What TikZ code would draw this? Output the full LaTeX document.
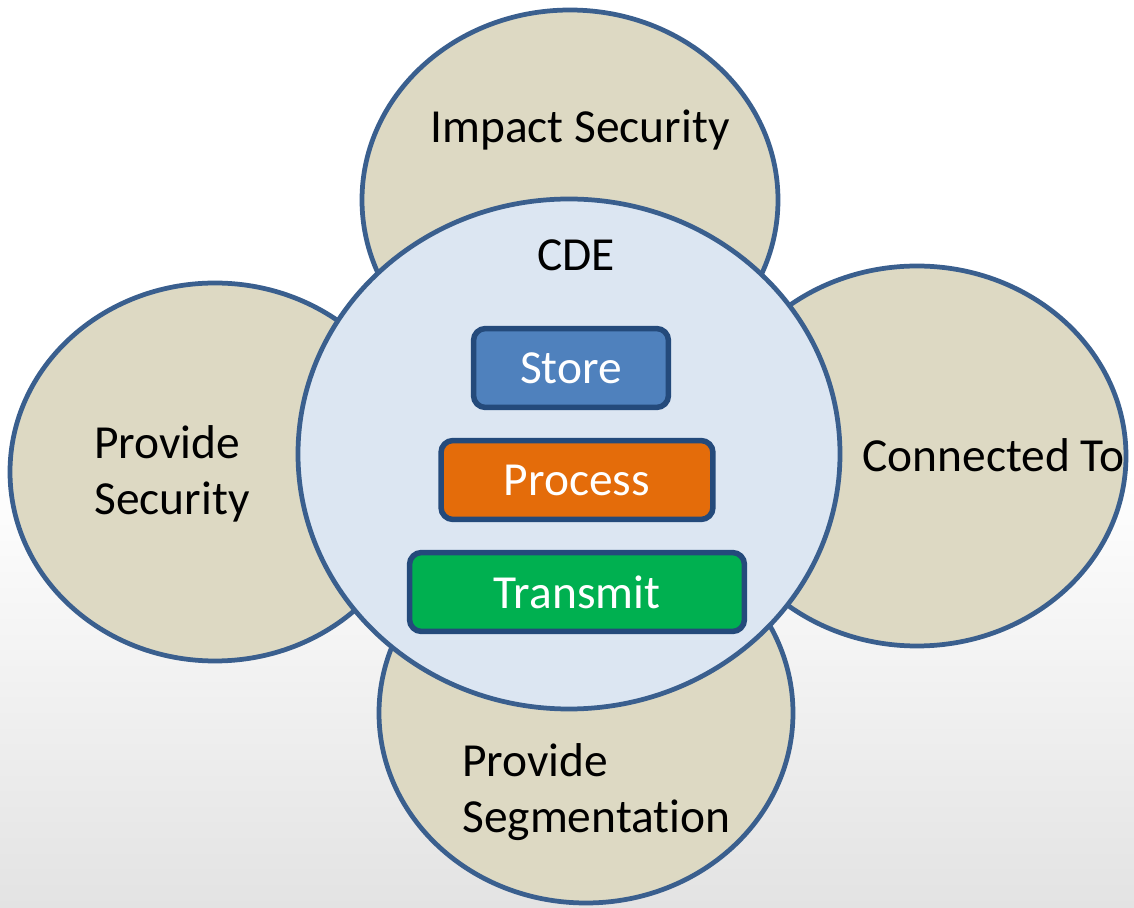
\documentclass[tikz,border=0pt]{standalone}
\usepackage{fontspec}
\setmainfont{Carlito}[Ligatures=NoCommon]
\definecolor{ringblue}{HTML}{3A5F8E}
\definecolor{sand}{HTML}{DDD9C3}
\definecolor{cdefill}{HTML}{DCE6F2}
\definecolor{boxline}{HTML}{244A7B}
\definecolor{storeblue}{HTML}{4F81BD}
\definecolor{processorange}{HTML}{E46C0A}
\definecolor{transmitgreen}{HTML}{00B050}
\definecolor{bggray}{HTML}{E3E3E3}
\begin{document}
\begin{tikzpicture}[x=0.02cm,y=-0.02cm,
  area/.style={draw=ringblue, line width=0.095cm, fill=sand},
  areatext/.style={font=\fontsize{27}{32}\selectfont, align=left, inner sep=0pt},
  actbox/.style={draw=boxline, line width=0.11cm, rounded corners=0.24cm,
    minimum height=1.58cm, inner sep=0pt, text=white,
    font=\fontsize{27}{32}\selectfont}]
% Fondo
\useasboundingbox (0,0) rectangle (1134,908);
\fill[white] (0,0) rectangle (1134,470);
\shade[top color=white, bottom color=bggray] (0,470) rectangle (1134,908);
% Lobulos
\draw[area] (570,200) ellipse [x radius=208, y radius=190];
\draw[area] (215,472) ellipse [x radius=205, y radius=189];
\draw[area] (917,456) ellipse [x radius=209, y radius=190];
\draw[area] (586,713) ellipse [x radius=207, y radius=190];
% CDE
\draw[area, fill=cdefill] (569,454) ellipse [x radius=271, y radius=255];
% Cajas
\node[actbox, fill=storeblue, minimum width=3.9cm] (store) at (571,368) {Store};
\node[actbox, fill=processorange, minimum width=5.44cm] (process) at (577,480) {Process};
\node[actbox, fill=transmitgreen, minimum width=6.7cm] (transmit) at (577,592) {Transmit};
% Etiquetas
\node[areatext, anchor=base] (impact) at (580,143) {Impact Security};
\node[areatext, anchor=base] (cde) at (576,271) {CDE};
\node[areatext, anchor=base west] (connected) at (862,472) {Connected To};
\node[areatext, anchor=west] (provsec) at (94,474) {Provide\\Security};
\node[areatext, anchor=west] (provseg) at (462,792) {Provide\\Segmentation};
\end{tikzpicture}
\end{document}
